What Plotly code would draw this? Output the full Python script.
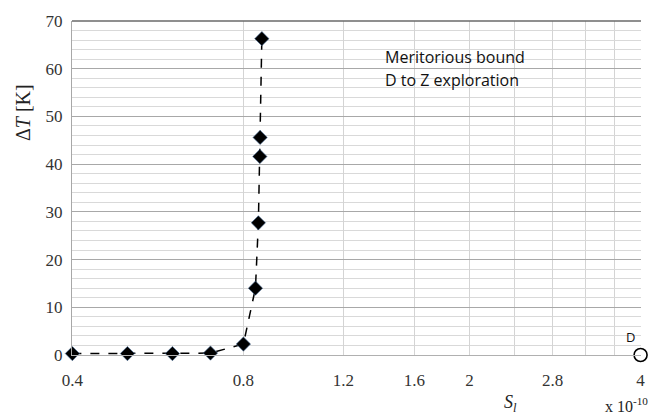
import plotly.graph_objects as go

# Data (S_l in units of 1e-10, Delta T in K)
s_values = [0.4, 0.5, 0.6, 0.7, 0.8, 0.84, 0.85, 0.855, 0.856, 0.862]
dt_values = [0.3, 0.3, 0.3, 0.4, 2.3, 14.0, 27.7, 41.6, 45.6, 66.3]
point_d_s = [4.0]
point_d_dt = [0.0]

x_tick_vals = [0.4, 0.8, 1.2, 1.6, 2.0, 2.8, 4.0]
x_tick_text = ["0.4", "0.8", "1.2", "1.6", "2", "2.8", "4"]
x_minor_vals = [2.4, 3.2, 3.6]
y_tick_vals = [0, 10, 20, 30, 40, 50, 60, 70]

fig = go.Figure()
fig.add_trace(go.Scatter(
    x=s_values, y=dt_values, mode="lines+markers",
    line=dict(color="black", width=1.5, dash="dash"),
    marker=dict(symbol="diamond", size=11, color="black",
                line=dict(color="#4a6f9a", width=0.6)),
    cliponaxis=False, showlegend=False,
))
fig.add_trace(go.Scatter(
    x=point_d_s, y=point_d_dt, mode="markers",
    marker=dict(symbol="circle-open", size=13, color="black",
                line=dict(color="black", width=1.6)),
    cliponaxis=False, showlegend=False,
))

serif = "Liberation Serif"
sans = "Open Sans"

fig.update_layout(
    width=658, height=416,
    margin=dict(l=72, r=17, t=21, b=61),
    paper_bgcolor="white", plot_bgcolor="white",
    font=dict(family=serif, size=17, color="#333333"),
)
fig.update_xaxes(
    type="log", range=[-0.3986, 0.6028],
    tickmode="array", tickvals=x_tick_vals, ticktext=x_tick_text,
    showgrid=True, gridcolor="#d4d4d4", gridwidth=1,
    minor=dict(tickvals=x_minor_vals, showgrid=True, gridcolor="#d4d4d4", gridwidth=1),
    showline=True, linecolor="#b0b0b0", linewidth=1,
    zeroline=False, ticks="outside", ticklen=10, tickcolor="rgba(0,0,0,0)",
    tickfont=dict(family=serif, size=17, color="#333333"),
)
fig.update_yaxes(
    range=[0, 70], tickmode="array", tickvals=y_tick_vals,
    showgrid=True, gridcolor="#a8a8a8", gridwidth=1,
    minor=dict(dtick=2, showgrid=True, gridcolor="#d9d9d9", gridwidth=1),
    showline=True, linecolor="#a8a8a8", linewidth=1,
    zeroline=False, ticks="outside", ticklen=5, tickcolor="rgba(0,0,0,0)",
    tickfont=dict(family=serif, size=17, color="#333333"),
)
fig.update_layout(
    shapes=[dict(type="line", xref="paper", yref="paper", x0=0, x1=1, y0=1, y1=1,
                 line=dict(color="#6a6a6a", width=1.5))],
    annotations=[
        dict(text="Δ<i>T</i> [K]", xref="paper", yref="paper", x=-0.086, y=0.7246,
             textangle=-90, showarrow=False, xanchor="center", yanchor="middle",
             font=dict(family=serif, size=20, color="#222222")),
        dict(text="<i>S<sub>l</sub></i>", xref="paper", yref="paper", x=0.770, y=-0.145,
             showarrow=False, xanchor="center", yanchor="middle",
             font=dict(family=serif, size=18, color="#222222")),
        dict(text="x 10<sup>-10</sup>", xref="paper", yref="paper", x=0.975, y=-0.150,
             showarrow=False, xanchor="center", yanchor="middle",
             font=dict(family=serif, size=16, color="#222222")),
        dict(text="Meritorious bound", xref="paper", yref="paper", x=0.5466, y=0.892,
             showarrow=False, xanchor="left", yanchor="middle",
             font=dict(family=sans, size=16, color="#111111")),
        dict(text="D to Z exploration", xref="paper", yref="paper", x=0.5466, y=0.823,
             showarrow=False, xanchor="left", yanchor="middle",
             font=dict(family=sans, size=16, color="#111111")),
        dict(text="D", xref="paper", yref="paper", x=0.9807, y=0.054,
             showarrow=False, xanchor="center", yanchor="middle",
             font=dict(family=sans, size=13, color="#111111")),
    ],
)

fig.write_html("out.html")
